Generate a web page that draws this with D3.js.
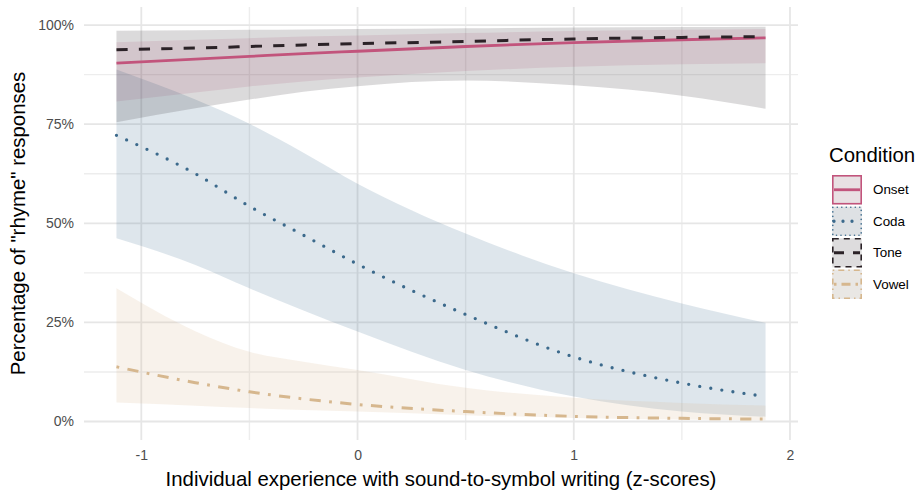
<!DOCTYPE html>
<html>
<head>
<meta charset="utf-8">
<script src="https://cdn.jsdelivr.net/npm/d3@7/dist/d3.min.js"></script>
<style>
body { margin: 0; background: #fff; }
text { font-family: "Liberation Sans", Arial, sans-serif; }
</style>
</head>
<body>
<div id="viz"></div>
<script>
// condition names, in legend order
var conditions = ["Onset", "Coda", "Tone", "Vowel"];

// experience (z-scores) where the fitted curves were read
var zs = [-1.115, -0.75, -0.5, -0.25, 0, 0.5, 1, 1.5, 1.887];

// fitted proportion of "rhyme" answers, with lower / upper band
var onsetFit  = [0.904, 0.914, 0.921, 0.928, 0.934, 0.946, 0.956, 0.963, 0.968];
var onsetLow  = [0.807, 0.830, 0.845, 0.858, 0.868, 0.884, 0.895, 0.901, 0.904];
var onsetHigh = [0.957, 0.963, 0.967, 0.971, 0.974, 0.980, 0.985, 0.988, 0.990];

var codaFit  = [0.722, 0.625, 0.543, 0.470, 0.397, 0.270, 0.163, 0.097, 0.063];
var codaLow  = [0.462, 0.395, 0.336, 0.280, 0.227, 0.130, 0.063, 0.025, 0.012];
var codaHigh = [0.888, 0.812, 0.751, 0.678, 0.600, 0.474, 0.374, 0.298, 0.249];

var toneFit  = [0.938, 0.942, 0.946, 0.950, 0.953, 0.959, 0.965, 0.969, 0.971];
var toneLow  = [0.755, 0.790, 0.812, 0.832, 0.846, 0.860, 0.848, 0.822, 0.789];
var toneHigh = [0.986, 0.987, 0.988, 0.989, 0.990, 0.992, 0.994, 0.995, 0.996];

var vowelFit  = [0.138, 0.098, 0.075, 0.057, 0.043, 0.025, 0.013, 0.008, 0.006];
var vowelLow  = [0.048, 0.040, 0.034, 0.029, 0.025, 0.016, 0.009, 0.005, 0.003];
var vowelHigh = [0.336, 0.228, 0.176, 0.151, 0.130, 0.085, 0.060, 0.047, 0.040];

var xTicks = [-1, 0, 1, 2];
var xMinor = [-0.5, 0.5, 1.5];
var yTicks = [0, 0.25, 0.5, 0.75, 1];
var yMinor = [0.125, 0.375, 0.625, 0.875];

var fits  = { Onset: onsetFit,  Coda: codaFit,  Tone: toneFit,  Vowel: vowelFit };
var lows  = { Onset: onsetLow,  Coda: codaLow,  Tone: toneLow,  Vowel: vowelLow };
var highs = { Onset: onsetHigh, Coda: codaHigh, Tone: toneHigh, Vowel: vowelHigh };

var colour = { Onset: "#c2547c", Coda: "#3c6a8c", Tone: "#2b2227", Vowel: "#d6b78e" };
var bandAlpha = { Onset: 0.14, Coda: 0.17, Tone: 0.17, Vowel: 0.18 };
var dash   = { Onset: null, Coda: "0,11.2", Tone: "11.2,11.2", Vowel: "2.8,8.4,11.2,8.4" };
var cap    = { Onset: "butt", Coda: "round", Tone: "butt", Vowel: "butt" };
var width  = { Onset: 2.8, Coda: 3.3, Tone: 3, Vowel: 3 };

var w = 919, h = 494;
var pLeft = 84, pRight = 798, pTop = 7, pBottom = 440;

var svg = d3.select("#viz").append("svg")
    .attr("width", w)
    .attr("height", h);

// ggplot style 5% expansion
var xExt = d3.extent(zs), xPad = (xExt[1] - xExt[0]) * 0.05;
var allLow = d3.min(conditions, function(c) { return d3.min(lows[c]); });
var allHigh = d3.max(conditions, function(c) { return d3.max(highs[c]); });
var yPad = (allHigh - allLow) * 0.05;

var x = d3.scaleLinear().domain([xExt[0] - xPad, xExt[1] + xPad]).range([pLeft, pRight]);
var y = d3.scaleLinear().domain([allLow - yPad, allHigh + yPad]).range([pBottom, pTop]);

// grid
var grid = svg.append("g");
grid.selectAll(".ymin").data(yMinor).enter().append("line")
    .attr("x1", pLeft).attr("x2", pRight)
    .attr("y1", function(d) { return y(d); }).attr("y2", function(d) { return y(d); })
    .style("stroke", "#ededed").style("stroke-width", 1.4);
grid.selectAll(".xmin").data(xMinor).enter().append("line")
    .attr("y1", pTop).attr("y2", pBottom)
    .attr("x1", function(d) { return x(d); }).attr("x2", function(d) { return x(d); })
    .style("stroke", "#ededed").style("stroke-width", 1.4);
grid.selectAll(".ymaj").data(yTicks).enter().append("line")
    .attr("x1", pLeft).attr("x2", pRight)
    .attr("y1", function(d) { return y(d); }).attr("y2", function(d) { return y(d); })
    .style("stroke", "#e6e6e6").style("stroke-width", 1.8);
grid.selectAll(".xmaj").data(xTicks).enter().append("line")
    .attr("y1", pTop).attr("y2", pBottom)
    .attr("x1", function(d) { return x(d); }).attr("x2", function(d) { return x(d); })
    .style("stroke", "#e6e6e6").style("stroke-width", 1.8);

// axes (labels only, like theme_minimal)
var yAxis = svg.append("g")
    .attr("transform", "translate(" + (pLeft - 7) + ",0)")
    .call(d3.axisLeft(y).tickValues(yTicks).tickSize(0)
      .tickFormat(function(d) { return Math.round(d * 100) + "%"; }));
yAxis.select(".domain").remove();
yAxis.selectAll("text").style("font-size", "14px").style("fill", "#4d4d4d")
    .style("font-family", '"Liberation Sans", Arial, sans-serif');

var xAxis = svg.append("g")
    .attr("transform", "translate(0," + (pBottom + 7) + ")")
    .call(d3.axisBottom(x).tickValues(xTicks).tickSize(0)
      .tickFormat(function(d) { return String(d); }));
xAxis.select(".domain").remove();
xAxis.selectAll("text").style("font-size", "14px").style("fill", "#4d4d4d")
    .style("font-family", '"Liberation Sans", Arial, sans-serif');

// ribbons
var band = d3.area()
    .x(function(d) { return x(d[0]); })
    .y0(function(d) { return y(d[1]); })
    .y1(function(d) { return y(d[2]); })
    .curve(d3.curveMonotoneX);

conditions.forEach(function(c) {
  var rows = zs.map(function(z, i) { return [z, lows[c][i], highs[c][i]]; });
  svg.append("path")
    .attr("d", band(rows))
    .style("fill", colour[c])
    .style("fill-opacity", bandAlpha[c]);
});

// fitted lines
var fitLine = d3.line()
    .x(function(d) { return x(d[0]); })
    .y(function(d) { return y(d[1]); })
    .curve(d3.curveMonotoneX);

conditions.forEach(function(c) {
  var rows = zs.map(function(z, i) { return [z, fits[c][i]]; });
  svg.append("path")
    .attr("d", fitLine(rows))
    .style("fill", "none")
    .style("stroke", colour[c])
    .style("stroke-width", width[c])
    .style("stroke-linecap", cap[c])
    .style("stroke-dasharray", dash[c]);
});

// axis titles
svg.append("text")
    .attr("x", (pLeft + pRight) / 2)
    .attr("y", 486)
    .attr("text-anchor", "middle")
    .style("font-size", "20.4px")
    .style("fill", "#000")
    .text("Individual experience with sound-to-symbol writing (z-scores)");

svg.append("text")
    .attr("transform", "translate(25," + ((pTop + pBottom) / 2) + ") rotate(-90)")
    .attr("text-anchor", "middle")
    .style("font-size", "20.4px")
    .style("fill", "#000")
    .text("Percentage of \"rhyme\" responses");

// legend
var keyDash = { Onset: null, Coda: "0,4.5", Tone: "6,5", Vowel: "1.5,4,6,4" };
var lg = svg.append("g").attr("transform", "translate(832,0)");
lg.append("text")
    .attr("x", -3)
    .attr("y", 162)
    .style("font-size", "20.4px")
    .text("Condition");

conditions.forEach(function(c, i) {
  var ky = 175 + i * 31.5;
  lg.append("rect")
    .attr("x", 0).attr("y", ky).attr("width", 30).attr("height", 29.5)
    .style("fill", "#ebebeb");
  lg.append("rect")
    .attr("x", 0.8).attr("y", ky + 0.8).attr("width", 28.4).attr("height", 27.9)
    .style("fill", colour[c]).style("fill-opacity", 0.07)
    .style("stroke", colour[c]).style("stroke-width", 1.6)
    .style("stroke-linecap", cap[c])
    .style("stroke-dasharray", keyDash[c]);
  lg.append("line")
    .attr("x1", 2).attr("x2", 28)
    .attr("y1", ky + 14.75).attr("y2", ky + 14.75)
    .style("stroke", colour[c])
    .style("stroke-width", width[c])
    .style("stroke-linecap", cap[c])
    .style("stroke-dasharray", c == "Onset" ? null : (c == "Coda" ? "0,9" : (c == "Tone" ? "10,9" : "2.5,5,9,5")));
  lg.append("text")
    .attr("x", 41)
    .attr("y", ky + 14.75)
    .attr("dy", "0.35em")
    .style("font-size", "13.4px")
    .text(c);
});
</script>
</body>
</html>
